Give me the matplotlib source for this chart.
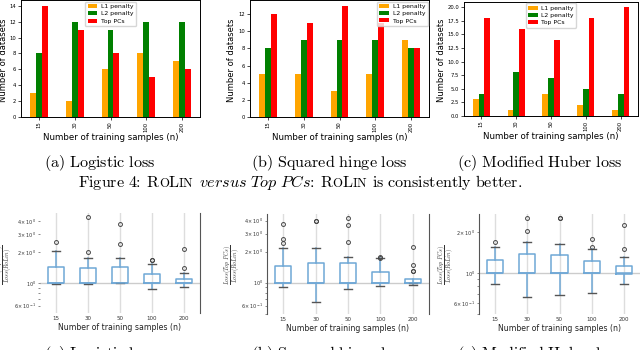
import numpy as np
import matplotlib
matplotlib.use('Agg')
import matplotlib.pyplot as plt

plt.rcParams['mathtext.fontset'] = 'cm'

W, H = 640, 350

#(1) Data
sizes = ['15', '30', '50', '100', '200']
series = ['L1 penalty', 'L2 penalty', 'Top PCs']
bar_colors = ['orange', 'green', 'red']

# number of datasets won by each method (top row)
logistic_l1 = [3, 2, 6, 8, 7]
logistic_l2 = [8, 12, 11, 12, 12]
logistic_top = [14, 11, 8, 5, 6]

hinge_l1 = [5, 5, 3, 5, 9]
hinge_l2 = [8, 9, 9, 9, 8]
hinge_top = [12, 11, 13, 11, 8]

huber_l1 = [3, 1, 4, 2, 1]
huber_l2 = [4, 8, 7, 5, 4]
huber_top = [18, 16, 14, 18, 20]

# Loss(Top PCs)/Loss(RoLin) box summaries (bottom row)
logistic_whislo = [0.98, 0.98, 1.0, 0.875, 0.91]
logistic_q1 = [1.0, 1.0, 1.0, 1.0, 1.0]
logistic_med = [1.0, 1.0, 1.0, 1.0, 1.0]
logistic_q3 = [1.44, 1.39, 1.44, 1.22, 1.09]
logistic_whishi = [2.04, 1.74, 1.76, 1.52, 1.24]
logistic_fliers = [[2.52], [2.01, 4.35], [2.38, 3.71], [1.66, 1.68], [1.41, 2.14]]

hinge_whislo = [0.90, 0.65, 0.86, 0.93, 0.95]
hinge_q1 = [1.0, 1.0, 1.0, 1.0, 0.99]
hinge_med = [1.0, 1.0, 1.0, 1.0, 1.0]
hinge_q3 = [1.46, 1.54, 1.54, 1.26, 1.08]
hinge_whishi = [2.17, 2.17, 1.79, 1.73, 1.0]
hinge_fliers = [[2.45, 2.64, 3.69], [3.96, 4.0], [2.5, 3.63, 4.2], [1.74, 1.76],
                [1.29, 1.31, 1.49, 2.24]]

huber_whislo = [0.834, 0.667, 0.69, 0.72, 0.834]
huber_q1 = [1.0, 1.0, 1.0, 1.0, 0.99]
huber_med = [1.0, 1.0, 1.0, 1.0, 1.0]
huber_q3 = [1.25, 1.38, 1.35, 1.23, 1.12]
huber_whishi = [1.57, 1.69, 1.63, 1.51, 1.31]
huber_fliers = [[1.69], [2.06, 2.54], [2.53, 2.55], [1.57, 1.79], [1.5, 2.27]]

captions = ['(a)\\ Logistic\\ loss', '(b)\\ Squared\\ hinge\\ loss',
            '(c)\\ Modified\\ Huber\\ loss']

fig = plt.figure(figsize=(6.4, 3.5), dpi=100)


def px_axes(x0, y0, x1, y1):                       # pixel box (top-left origin) -> axes
    return fig.add_axes([x0 / W, 1 - y1 / H, (x1 - x0) / W, (y1 - y0) / H])


#(2) Top row bar charts
def bar_panel(box, l1, l2, top, ylim, yticks, legend_loc, ylabel_x):
    ax = px_axes(*box)
    x = np.arange(len(sizes))
    w = 0.5 / 3
    for k, vals in enumerate([l1, l2, top]):
        ax.bar(x + (k - 1) * w, vals, w, color=bar_colors[k], label=series[k])
    ax.set_xlim(-0.5, len(sizes) - 0.5)
    ax.set_ylim(*ylim)
    ax.set_yticks(yticks)
    ax.set_xticks(x)
    ax.set_xticklabels(sizes, rotation=90)
    ax.tick_params(labelsize=3.8, length=2, width=0.5, pad=1.5)
    for s in ax.spines.values():
        s.set_linewidth(0.7)
    ax.set_xlabel('Number of training samples (n)', fontsize=6.2, labelpad=1)
    ax.legend(loc=legend_loc, fontsize=4.4, handlelength=1.6, handleheight=0.6,
              borderpad=0.4, labelspacing=0.35, handletextpad=0.6, borderaxespad=0.2)
    fig.text(ylabel_x / W, 1 - 60 / H, 'Number of datasets', rotation=90,
             ha='center', va='center', fontsize=6.0)
    return ax


bar_panel((21, 0.5, 200, 116.7), logistic_l1, logistic_l2, logistic_top,
          (0, 14.7), range(0, 15, 2), 'upper center', 4)
bar_panel((250, 0.3, 429, 116.7), hinge_l1, hinge_l2, hinge_top,
          (0, 13.65), range(0, 13, 2), 'upper right', 232)
bar_panel((464, 2, 638, 115.7), huber_l1, huber_l2, huber_top,
          (0, 21), np.arange(0, 20.1, 2.5), 'upper center', 441)


#(3) Bottom row box plots
def box_panel(box, whislo, q1, med, q3, whishi, fliers, ylim, spines, ylabel_x):
    ax = px_axes(*box)
    stats = []
    for i in range(len(sizes)):
        stats.append(dict(whislo=whislo[i], q1=q1[i], med=med[i], q3=q3[i],
                          whishi=whishi[i], fliers=fliers[i]))
    blue = '#6fa8d6'
    ax.bxp(stats, positions=range(1, len(sizes) + 1), widths=0.5,
           boxprops=dict(color=blue, linewidth=1.1),
           whiskerprops=dict(color=blue, linewidth=1.1),
           capprops=dict(color='#555555', linewidth=1.0),
           medianprops=dict(color=blue, linewidth=1.1),
           flierprops=dict(marker='o', markersize=2.8, markerfacecolor='none',
                           markeredgecolor='#444444', markeredgewidth=0.7))
    ax.set_yscale('log')
    ax.set_ylim(*ylim)
    ax.set_xlim(0.5, len(sizes) + 0.5)
    ax.set_xticks(range(1, len(sizes) + 1))
    ax.set_xticklabels(sizes)
    ax.grid(axis='x', color='#dddddd', linewidth=1.0, zorder=0)
    ax.set_axisbelow(True)
    ax.axhline(1, color='#cccccc', linewidth=1.0, zorder=0)
    ax.tick_params(axis='both', which='both', labelsize=3.5, length=1.5, width=0.4,
                   pad=1.5, colors='#333333')
    ax.tick_params(axis='x', length=0, labelsize=4, pad=2.5)
    for name, s in ax.spines.items():
        s.set_visible(name in spines)
        s.set_color('#555555')
        s.set_linewidth(0.8)
    ax.set_xlabel('Number of training samples (n)', fontsize=5.6, labelpad=1,
                  color='#222222')
    fig.text(ylabel_x / W, 1 - 265 / H, r'$\frac{Loss(Top\ PCs)}{Loss(RoLin)}$',
             rotation=90, ha='center', va='center', fontsize=6, color='#333333')
    return ax


box_panel((40, 213, 200, 313), logistic_whislo, logistic_q1, logistic_med, logistic_q3,
          logistic_whishi, logistic_fliers, (0.51, 4.78), ['right'], 5)
box_panel((267, 214, 429, 314), hinge_whislo, hinge_q1, hinge_med, hinge_q3,
          hinge_whishi, hinge_fliers, (0.497, 4.64), ['left', 'right'], 233)
box_panel((479, 214, 640, 314), huber_whislo, huber_q1, huber_med, huber_q3,
          huber_whishi, huber_fliers, (0.50, 2.73), ['left'], 447)

#(4) Captions
big, small = 11.6, 9.2
cap_x = [100, 329, 540]
for cx, c in zip(cap_x, captions):
    fig.text(cx / W, 1 - 167 / H, r'$\mathrm{' + c + '}$', ha='center', va='baseline',
             fontsize=big)
    fig.text(cx / W, 1 - 358 / H, r'$\mathrm{' + c + '}$', ha='center', va='baseline',
             fontsize=big)

# figure caption with small caps RoLin, placed piece by piece
sp, tight = 5, -1.5
pieces = [(r'$\mathrm{Figure\ 4}$', big, 0), (r'$\mathrm{:}$', big, -4.5),
          (r'$\mathrm{R}$', big, sp), (r'$\mathrm{O}$', small, tight),
          (r'$\mathrm{L}$', big, tight), (r'$\mathrm{IN}$', small, tight),
          (r'$\mathit{versus\ Top\ PCs}$', big, sp), (r'$\mathrm{:}$', big, -4.5),
          (r'$\mathrm{R}$', big, sp), (r'$\mathrm{O}$', small, tight),
          (r'$\mathrm{L}$', big, tight), (r'$\mathrm{IN}$', small, tight),
          (r'$\mathrm{is\ consistently\ better.}$', big, sp)]
renderer = fig.canvas.get_renderer()
x = 78
for s, fs, gap in pieces:
    x += gap
    t = fig.text(x / W, 1 - 187 / H, s, fontsize=fs, ha='left', va='baseline')
    x = t.get_window_extent(renderer).x1

plt.savefig('out.png', dpi=100)
